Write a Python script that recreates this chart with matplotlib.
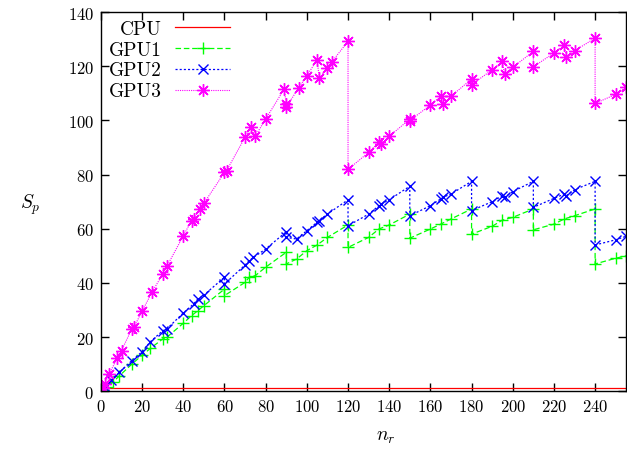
import matplotlib
matplotlib.use('Agg')
import matplotlib.pyplot as plt

# Values
cpu_x = [1, 255]
cpu_y = [1.0, 1.0]

gpu1_x = [1, 3, 6, 9, 15, 20, 24, 30, 32, 40, 44, 47, 50, 60, 60, 70, 72, 75, 80, 90,
          90, 95, 100, 105, 110, 120, 120, 130, 135, 140, 150, 150, 160, 165, 170, 180, 180, 190, 195, 200,
          210, 210, 220, 225, 230, 240, 240, 250, 255]
gpu1_y = [0.6, 1.5, 3.5, 5.7, 10.0, 13.3, 15.8, 19.3, 19.9, 25.1, 27.9, 29.7, 31.6, 37.7, 35.3, 40.2, 42.1, 42.7, 45.8, 51.3,
          47.0, 48.8, 51.9, 54.0, 56.8, 61.4, 53.1, 56.8, 59.9, 61.4, 65.4, 56.5, 59.9, 61.7, 63.6, 67.3, 58.0, 60.9, 63.2, 64.2,
          67.3, 59.6, 61.7, 63.6, 64.8, 67.3, 47.0, 49.1, 50.0]

gpu2_x = [1, 2, 5, 9, 15, 20, 24, 30, 32, 40, 45, 47, 50, 60, 60, 70, 72, 74, 80, 90,
          90, 95, 100, 105, 106, 110, 120, 120, 130, 135, 136, 140, 150, 150, 160, 165, 166, 170, 180, 180,
          190, 195, 196, 200, 210, 210, 220, 225, 226, 230, 240, 240, 250, 255]
gpu2_y = [0.9, 1.4, 4.2, 7.0, 11.3, 14.6, 18.3, 22.3, 23.0, 28.9, 32.2, 34.0, 35.5, 42.1, 39.6, 46.6, 48.2, 49.4, 52.5, 58.9,
          56.8, 56.2, 59.3, 62.4, 63.0, 65.4, 70.7, 61.1, 65.4, 68.5, 69.1, 70.7, 75.7, 64.8, 68.5, 71.0, 71.6, 72.8, 77.5, 66.7,
          70.0, 72.2, 71.6, 73.7, 77.5, 67.9, 71.2, 72.8, 72.2, 74.4, 77.5, 54.0, 55.9, 57.2]

gpu3_x = [1, 2, 4, 8, 10, 15, 16, 20, 25, 30, 32, 40, 44, 45, 48, 50, 60, 61, 70, 73,
          75, 80, 89, 90, 90, 96, 100, 105, 106, 110, 112, 120, 120, 130, 135, 136, 140, 150, 150, 160,
          165, 166, 170, 180, 180, 190, 195, 196, 200, 210, 210, 220, 225, 226, 230, 240, 240, 250, 255]
gpu3_y = [1.0, 2.5, 6.4, 12.3, 15.0, 23.0, 23.6, 29.6, 36.8, 43.3, 46.1, 57.4, 63.0, 63.6, 67.3, 69.4, 80.8, 81.4, 93.8, 97.5,
          94.3, 100.5, 111.6, 106.1, 104.9, 112.0, 116.5, 122.4, 115.6, 119.3, 121.5, 129.2, 81.9, 88.2, 91.9, 91.3, 94.1, 100.5, 99.9, 105.7,
          108.9, 106.0, 108.9, 115.3, 113.2, 118.7, 121.8, 117.1, 119.6, 125.5, 119.8, 124.9, 127.8, 123.3, 125.7, 130.4, 106.3, 109.6, 112.2]

x_ticks = list(range(0, 241, 20))
y_ticks = list(range(0, 141, 20))

plt.rcParams['font.family'] = 'cmr10'
plt.rcParams['mathtext.fontset'] = 'cm'
plt.rcParams['axes.formatter.use_mathtext'] = True
plt.rcParams['lines.scale_dashes'] = False

fig = plt.figure(figsize=(6.27, 4.52), dpi=100)
ax = fig.add_axes([0.161, 0.1323, 0.8374, 0.8387])

ax.plot(cpu_x, cpu_y, color='red', lw=0.9, label='CPU')
ax.plot(gpu1_x, gpu1_y, color='#00ff00', lw=0.9, dashes=(4, 2), marker='+', ms=8, mew=1.0, label='GPU1')
ax.plot(gpu2_x, gpu2_y, color='#0000ff', lw=0.9, dashes=(1.5, 1.5), marker='x', ms=7, mew=1.0, label='GPU2')
ax.plot(gpu3_x, gpu3_y, color='#ff00ff', lw=0.8, dashes=(0.8, 0.8), marker=(8, 2, 0), ms=9, mew=1.0, label='GPU3')

ax.set_xlim(0, 255)
ax.set_ylim(0, 140)
ax.set_xticks(x_ticks)
ax.set_yticks(y_ticks)
ax.tick_params(direction='in', top=True, right=True, length=6, width=1, labelsize=12, pad=5)
for sp in ax.spines.values():
    sp.set_linewidth(1.0)

ax.set_xlabel('$n_r$', fontsize=14)
ax.xaxis.set_label_coords(0.542, -0.095)
ax.set_ylabel('$S_p$', fontsize=14, rotation=0, ha='center', va='center')
ax.yaxis.set_label_coords(-0.135, 0.494)

ax.legend(loc='upper left', markerfirst=False, frameon=False, fontsize=14,
          handlelength=2.8, handletextpad=0.7, labelspacing=0.15,
          borderaxespad=0.0, numpoints=1)

fig.savefig('out.png', dpi=100)
